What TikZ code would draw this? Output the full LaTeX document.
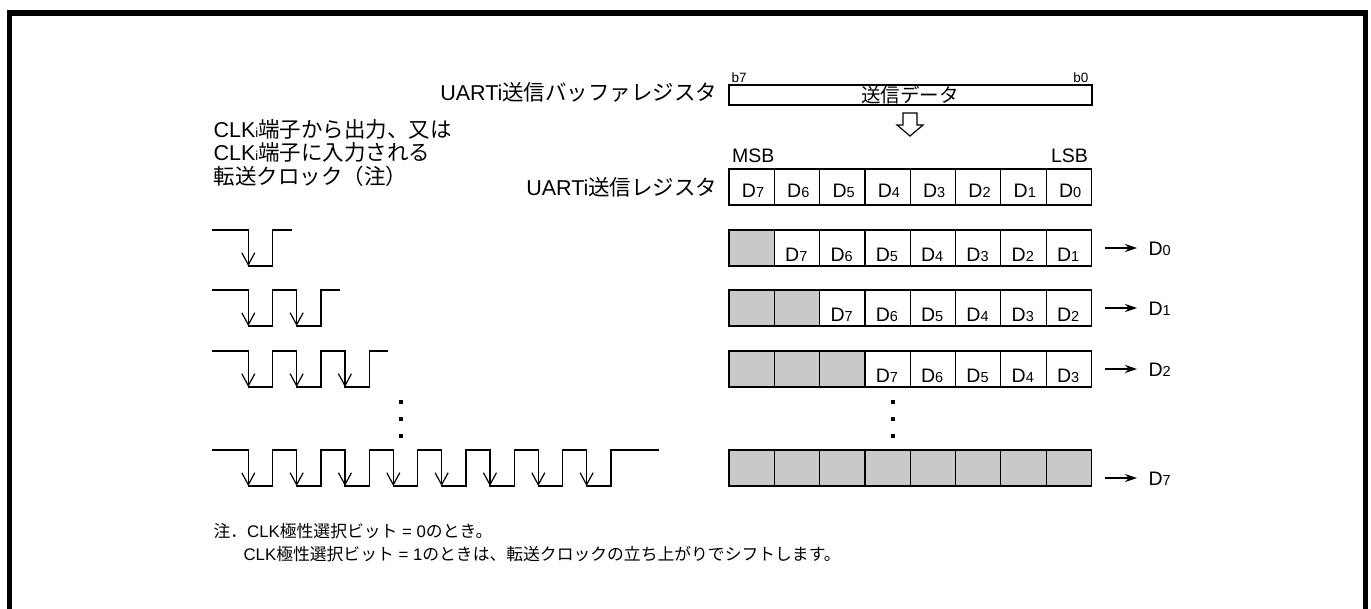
\documentclass[tikz,border=0pt]{standalone}
\usepackage{fontspec}
\setmainfont{Liberation Sans}
\newfontfamily\jp{Noto Sans CJK JP}
\usetikzlibrary{arrows.meta}
\definecolor{cellgray}{RGB}{200,201,203}
\newcommand{\Dn}[1]{D{\fontsize{14.5}{15}\selectfont #1}}
\newcommand{\clki}{CLK{\fontsize{13}{13}\selectfont i}}
\begin{document}
\begin{tikzpicture}[x=1pt,y=-1pt,line width=1.2pt,
    big/.style={font=\fontsize{21.5}{24}\selectfont,inner sep=0pt},
    cell/.style={font=\fontsize{19.5}{20}\selectfont,inner sep=0pt,anchor=base},
    note/.style={font=\fontsize{16.8}{18}\selectfont,inner sep=0pt,anchor=base west},
    fallarrow/.style={-{Straight Barb[length=12pt,width=13pt]}},
    outarrow/.style={-{Stealth[length=12pt,width=8pt]},shorten >=11pt}]
\useasboundingbox (0,0) rectangle (1371,608);
% frame, open at the bottom
\draw[line width=5.5pt,line cap=rect] (9.5,608) -- (9.5,13) -- (1365.3,13) -- (1365.3,608);

% transmit buffer register
\draw (729,85) rectangle (1092,105);
\node[big,font=\jp\fontsize{19.5}{22}\selectfont] (buf) at (910,94.5) {送信データ};
\node[inner sep=0pt,anchor=base west,font=\fontsize{13.5}{14}\selectfont] (b7) at (731,82) {b7};
\node[inner sep=0pt,anchor=base east,font=\fontsize{13.5}{14}\selectfont] (b0) at (1089,82) {b0};
\node[big,anchor=base east] (buflbl) at (718,100) {UARTi{\jp 送信バッファレジスタ}};
\draw (903,113) -- (917,113) -- (917,125) -- (923,125) -- (910,136) -- (897,125) -- (903,125) -- cycle;

% transmit register
\node[big,anchor=base west,font=\fontsize{19.5}{20}\selectfont] (msb) at (731.5,162) {MSB};
\node[big,anchor=base east,font=\fontsize{19.5}{20}\selectfont] (lsb) at (1088.5,162) {LSB};
\node[big,anchor=base east] (reglbl) at (718,195) {UARTi{\jp 送信レジスタ}};
\foreach \i in {0,...,7}{
  \draw (729+45.3*\i,169) rectangle ++(45.3,36);
  \pgfmathtruncatemacro\d{7-\i}
  \node[cell] at (753+45.3*\i,197) {\Dn{\d}};
}

% clock label
\node[big,anchor=base west] (clk1) at (213,137) {\clki{\jp 端子から出力、又は}};
\node[big,anchor=base west] (clk2) at (213,160.5) {\clki{\jp 端子に入力される}};
\node[big,anchor=base west] (clk3) at (213,184) {{\jp 転送クロック（注）}};

% shifted contents and clocks
\foreach \k/\ty in {1/230,2/290,3/351}{
  \fill[cellgray] (729,\ty) rectangle ++(45.3*\k,36);
  \foreach \i in {0,...,7}{ \draw (729+45.3*\i,\ty) rectangle ++(45.3,36); }
  \foreach \i in {\k,...,7}{
    \pgfmathtruncatemacro\d{7-\i+\k}
    \node[cell] at (751+45.3*\i,\ty+31.5) {\Dn{\d}};
  }
  \coordinate (s\k) at (1105,\ty+18);
  \pgfmathtruncatemacro\o{\k-1}
  \node[cell,anchor=base west] (o\k) at (1148,\ty+25) {\Dn{\o}};
  \draw[outarrow] (s\k) -- (o\k.west |- s\k);
  \draw (212,\ty) \foreach \j in {1,...,\k}{ -- ({248.3+48.33*(\j-1)},\ty) -- ++(0,36) -- ++(24.4,0) -- ++(0,-36) } -- ++(19,0);
  \foreach \j in {1,...,\k}{ \draw[fallarrow] ({248.3+48.33*(\j-1)},\ty) -- ++(0,36); }
}

% dots
\foreach \y in {400,417,434}{
  \fill (399,\y) rectangle ++(4,4);
  \fill (891,\y) rectangle ++(4,4);
}

% last step
\fill[cellgray] (729,450) rectangle ++(362.4,36);
\foreach \i in {0,...,7}{ \draw (729+45.3*\i,450) rectangle ++(45.3,36); }
\coordinate (s8) at (1105,478);
\node[cell,anchor=base west] (o8) at (1148,485) {\Dn{7}};
\draw[outarrow] (s8) -- (o8.west |- s8);
\draw (212,450) \foreach \j in {1,...,8}{ -- ({248.3+48.33*(\j-1)},450) -- ++(0,36) -- ++(24.4,0) -- ++(0,-36) } -- ++(48,0);
\foreach \j in {1,...,8}{ \draw[fallarrow] ({248.3+48.33*(\j-1)},450) -- ++(0,36); }

% note
\node[note] (n1) at (213,537) {{\jp 注．}CLK{\jp 極性選択ビット} = 0{\jp のとき。}};
\node[note] (n2) at (243,560) {CLK{\jp 極性選択ビット} = 1{\jp のときは、転送クロックの立ち上がりでシフトします。}};
\end{tikzpicture}
\end{document}
